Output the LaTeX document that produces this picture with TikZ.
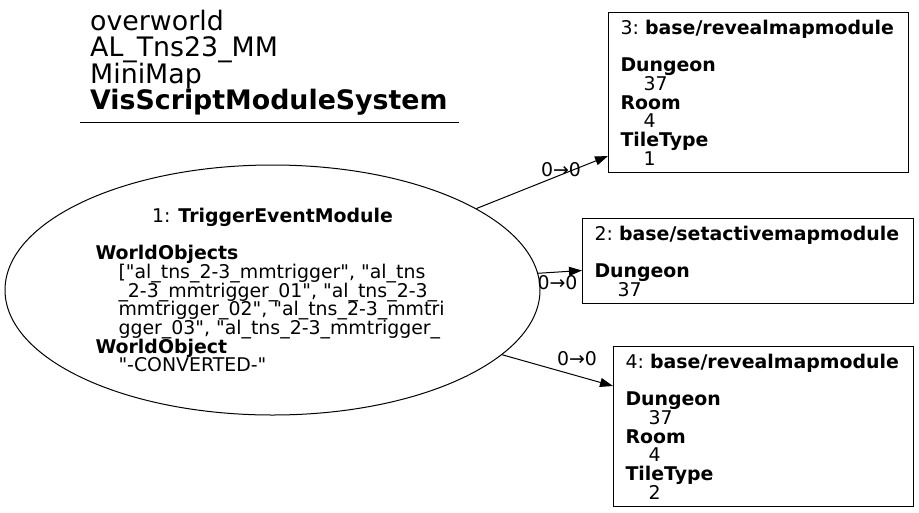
\documentclass[tikz,border=0pt]{standalone}
\usepackage{fontspec}
\setmainfont{DejaVu Sans}
\usetikzlibrary{shapes.geometric,arrows.meta,calc}
\lineskiplimit=-30pt
\lineskip=0pt
\newcommand\qq{\textquotedbl}
\begin{document}
\begin{tikzpicture}[x=1pt,y=-1pt,
  every node/.style={font=\fontsize{18.9}{18.7}\selectfont},
  hdrtext/.style={anchor=north west, align=left, inner sep=0pt, font=\fontsize{26.8}{26.3}\selectfont},
  modbox/.style={draw, line width=1pt, rectangle, anchor=north west, align=left, inner xsep=12pt, inner ysep=0pt},
  modell/.style={draw, line width=1pt, ellipse, align=left, inner sep=0pt},
  flow/.style={line width=1pt, -{Triangle[length=13pt,width=9pt]}},
  elab/.style={inner sep=0pt}]
\useasboundingbox (0,0) rectangle (919,512);

\node[hdrtext] (hdr) at (90,10) {overworld\\AL\_Tns23\_MM\\MiniMap\\\textbf{VisScriptModuleSystem}};
\coordinate (ulA) at (80,122);
\coordinate (ulB) at (459,122);
\draw[line width=1pt] (ulA) -- (ulB);

\node[modell, minimum width=535pt, minimum height=250pt] (m1) at (272.5,290)
  {\makebox[354pt]{1: \textbf{TriggerEventModule}}\\
   \mbox{}\\
   \textbf{WorldObjects}\\
   \hspace*{23pt}[\qq al\_tns\_2-3\_mmtrigger\qq, \qq al\_tns\\
   \hspace*{23pt}\_2-3\_mmtrigger\_01\qq, \qq al\_tns\_2-3\_\\
   \hspace*{23pt}mmtrigger\_02\qq, \qq al\_tns\_2-3\_mmtri\\
   \hspace*{23pt}gger\_03\qq, \qq al\_tns\_2-3\_mmtrigger\_\\
   \textbf{WorldObject}\\
   \hspace*{23pt}\qq-CONVERTED-\qq};

\node[modbox, text width=276pt, minimum height=160pt] (m3) at (608,12)
  {3:~\textbf{base/revealmapmodule}\\ \mbox{}\\ \textbf{Dungeon}\\ \hspace*{23pt}37\\ \textbf{Room}\\ \hspace*{23pt}4\\ \textbf{TileType}\\ \hspace*{23pt}1};

\node[modbox, text width=307pt, minimum height=85pt] (m2) at (582,218)
  {2:~\textbf{base/setactivemapmodule}\\ \mbox{}\\ \textbf{Dungeon}\\ \hspace*{23pt}37};

\node[modbox, text width=276pt, minimum height=160pt] (m4) at (613,346)
  {4:~\textbf{base/revealmapmodule}\\ \mbox{}\\ \textbf{Dungeon}\\ \hspace*{23pt}37\\ \textbf{Room}\\ \hspace*{23pt}4\\ \textbf{TileType}\\ \hspace*{23pt}2};

\draw[flow] (m1) -- ($(m3.south west)+(0,-17)$);
\draw[flow] (m1) -- ($(m2.west)+(0,9.5)$);
\draw[flow] (m1) -- ($(m4.north west)+(0,40)$);

\node[elab] (l3) at (561,170) {0→0};
\node[elab] (l2) at (557.5,283) {0→0};
\node[elab] (l4) at (577,359) {0→0};
\end{tikzpicture}
\end{document}
